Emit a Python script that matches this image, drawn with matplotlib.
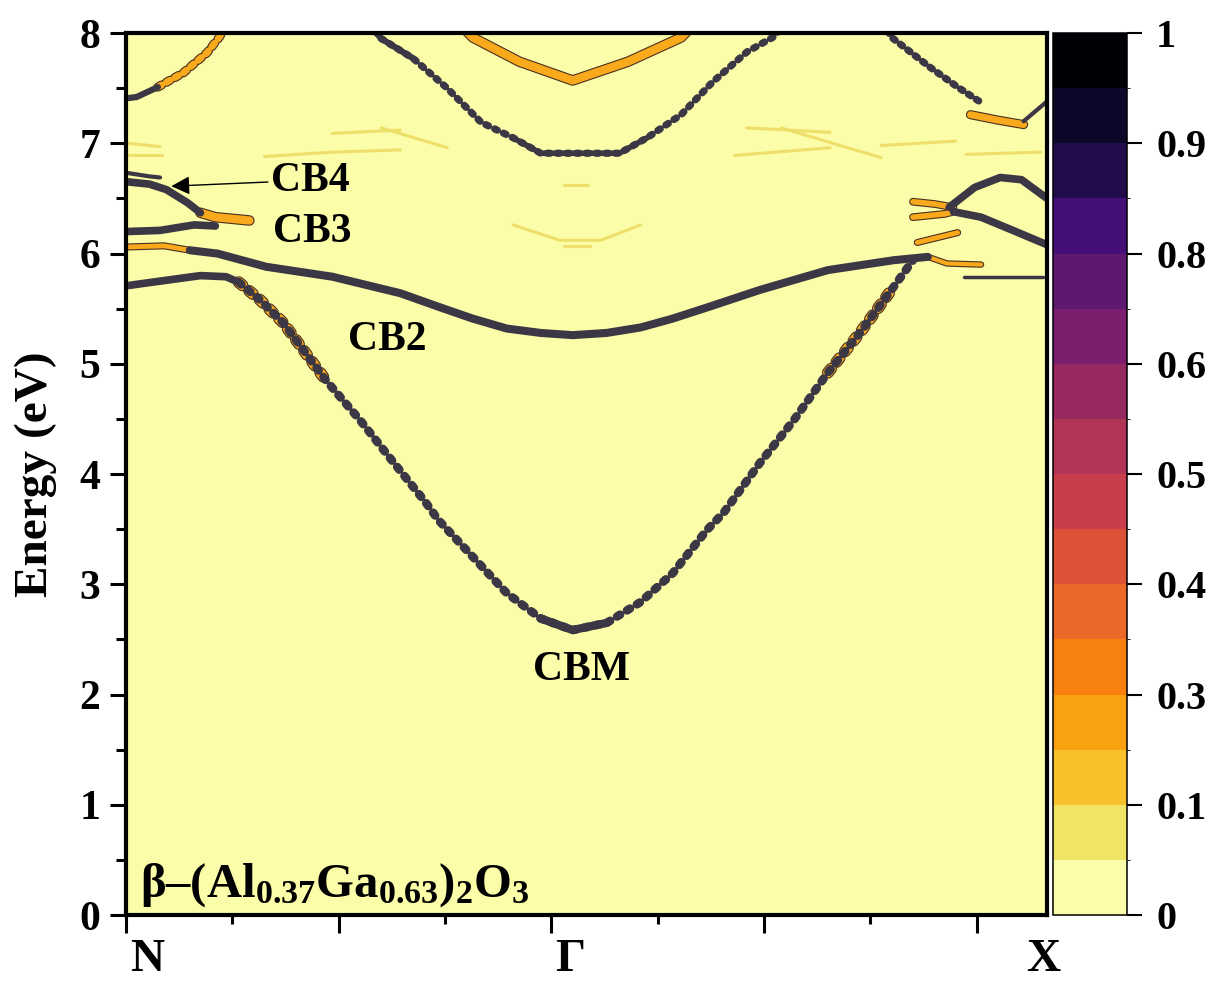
import numpy as np
import matplotlib
matplotlib.use('Agg')
import matplotlib.pyplot as plt
from matplotlib.colors import ListedColormap, BoundaryNorm
from matplotlib.cm import ScalarMappable
import matplotlib.patheffects as pe

plt.rcParams['font.family'] = 'Liberation Serif'
plt.rcParams['font.weight'] = 'bold'
plt.rcParams['axes.labelweight'] = 'bold'
plt.rcParams['mathtext.fontset'] = 'custom'
plt.rcParams['mathtext.rm'] = 'Liberation Serif:bold'
plt.rcParams['mathtext.it'] = 'Liberation Serif:bold'
plt.rcParams['mathtext.bf'] = 'Liberation Serif:bold'
plt.rcParams['mathtext.default'] = 'rm'

# ---- band data (k along N-G-X, energy in eV) ----
# CBM band (dotted, lowest conduction band)
cbm_k = [0.01, 0.16, 0.35, 0.47, 0.53, 0.63, 0.74, 0.94, 1.10, 1.26, 1.41, 1.47,
         1.63, 1.79, 1.95, 2.10, 2.26, 2.42, 2.57, 2.73, 2.81, 2.98, 3.14, 3.30,
         3.45, 3.61, 3.70]
cbm_e = [5.71, 5.75, 5.80, 5.79, 5.74, 5.58, 5.37, 4.85, 4.49, 4.10, 3.74, 3.58,
         3.25, 2.92, 2.69, 2.585, 2.65, 2.84, 3.10, 3.49, 3.65, 4.10, 4.49, 4.92,
         5.28, 5.70, 5.94]
# flat piece near X at 5.8 eV
cbx_k = [3.94, 4.10, 4.31]
cbx_e = [5.79, 5.79, 5.79]

# CB2
cb2_k = [0.30, 0.43, 0.66, 0.97, 1.29, 1.48, 1.63, 1.79, 1.95, 2.10, 2.26, 2.42,
         2.57, 2.73, 2.98, 3.30, 3.61, 3.77]
cb2_e = [6.03, 6.00, 5.88, 5.79, 5.64, 5.51, 5.41, 5.32, 5.28, 5.26, 5.28, 5.33,
         5.41, 5.51, 5.67, 5.85, 5.94, 5.97]
cb2_start_k = [0.01, 0.18, 0.30]
cb2_start_e = [6.06, 6.07, 6.03]
cb2_end_k = [3.77, 3.86, 4.02]
cb2_end_e = [5.97, 5.91, 5.90]

# CB3 and CB4 near N
cb3_k = [0.01, 0.16, 0.32, 0.42]
cb3_e = [6.20, 6.21, 6.26, 6.25]
cb4_k = [0.01, 0.11, 0.19, 0.29, 0.35]
cb4_e = [6.65, 6.63, 6.58, 6.46, 6.37]
cb4_tail_k = [0.35, 0.42, 0.58]
cb4_tail_e = [6.37, 6.33, 6.30]
cb5_k = [0.01, 0.11, 0.16]
cb5_e = [6.73, 6.70, 6.69]

# bands near X
xup_k = [3.87, 3.99, 4.11, 4.21, 4.33]
xup_e = [6.42, 6.60, 6.69, 6.67, 6.50]
xlo_k = [3.89, 4.02, 4.17, 4.33]
xlo_e = [6.38, 6.33, 6.21, 6.08]
xo1_k = [3.70, 3.80, 3.89]
xo1_e = [6.47, 6.45, 6.42]
xo2_k = [3.70, 3.85, 3.89]
xo2_e = [6.33, 6.36, 6.38]
xo3_k = [3.72, 3.91]
xo3_e = [6.10, 6.19]

# upper bands
ul_k = [0.01, 0.05, 0.15]
ul_e = [7.41, 7.42, 7.51]
ul_o_k = [0.15, 0.27, 0.38, 0.43, 0.46]
ul_o_e = [7.51, 7.64, 7.82, 7.94, 8.02]
top_k = [1.17, 1.20, 1.35, 1.51, 1.67, 1.82, 1.95, 2.14, 2.32, 2.45, 2.61, 2.76,
         2.92, 3.04, 3.07]
top_e = [8.02, 7.95, 7.77, 7.50, 7.19, 7.05, 6.91, 6.91, 6.91, 7.05, 7.26, 7.56,
         7.83, 7.96, 8.02]
topc_k = [1.60, 1.63, 1.85, 2.10, 2.36, 2.61, 2.64]
topc_e = [8.02, 7.96, 7.74, 7.57, 7.74, 7.96, 8.02]
tr_k = [3.58, 3.60, 3.78, 3.91, 4.02]
tr_e = [8.02, 7.96, 7.69, 7.51, 7.37]
tr_o_k = [3.97, 4.10, 4.22]
tr_o_e = [7.26, 7.21, 7.17]
tr2_k = [4.22, 4.33]
tr2_e = [7.20, 7.38]

# faint replica bands
ghosts = [
    ([0.01, 0.16], [7.00, 6.97]),
    ([0.01, 0.17], [6.89, 6.89]),
    ([0.65, 0.97, 1.29], [6.88, 6.92, 6.94]),
    ([0.97, 1.29], [7.09, 7.12]),
    ([1.20, 1.51], [7.14, 6.96]),
    ([2.86, 3.31], [6.89, 6.96]),
    ([2.92, 3.31], [7.14, 7.10]),
    ([3.08, 3.55], [7.14, 6.87]),
    ([1.82, 2.04, 2.23, 2.42], [6.26, 6.12, 6.12, 6.26]),
    ([2.06, 2.17], [6.62, 6.62]),
    ([2.06, 2.18], [6.07, 6.07]),
    ([3.55, 3.90], [6.98, 7.02]),
    ([3.95, 4.30], [6.90, 6.92]),
]

# colour scale
cbar_colors = ['#fcfda8', '#f0e464', '#f8c12c', '#f9a10f', '#f7800f', '#ec6828',
               '#dd5137', '#c83f4b', '#b03556', '#962a60', '#7c1d6e', '#5f1870',
               '#440f76', '#220c4b', '#0d0829', '#000004']
cbar_levels = [0, 0.0625, 0.125, 0.1875, 0.25, 0.3125, 0.375, 0.4375, 0.5,
               0.5625, 0.625, 0.6875, 0.75, 0.8125, 0.875, 0.9375, 1.0]
cbar_ticks = [0, 0.125, 0.25, 0.375, 0.5, 0.625, 0.75, 0.875, 1.0]
cbar_ticklabels = ['0', '0.1', '0.3', '0.4', '0.5', '0.6', '0.8', '0.9', '1']

kpt_pos = [0.10, 2.09, 4.31]
kpt_labels = ['N', 'Γ', 'X']

band_c = '#3b3745'
orange_c = '#f8a91c'
edge_c = '#4a3020'
ghost_c = '#eedf6a'

fig = plt.figure(figsize=(12.28, 9.93), dpi=100)
ax = fig.add_axes([0.1026, 0.0785, 0.75, 0.8882])
cax = fig.add_axes([0.8575, 0.0785, 0.0603, 0.8882])

ax.set_facecolor(cbar_colors[0])


def ghost(k, e):
    ax.plot(k, e, color=ghost_c, lw=2.2, solid_capstyle='round')


def orange(k, e, lw=6, ls='-'):
    ax.plot(k, e, color=orange_c, lw=lw, ls=ls, solid_capstyle='round',
            dash_capstyle='round', solid_joinstyle='round',
            path_effects=[pe.Stroke(linewidth=lw + 1.6, foreground=edge_c), pe.Normal()])


def dark(k, e, lw=5.5, ls='-'):
    ax.plot(k, e, color=band_c, lw=lw, ls=ls, solid_capstyle='round',
            dash_capstyle='round', solid_joinstyle='round')


for gk, ge in ghosts:
    ghost(gk, ge)

# orange (weaker spectral weight) parts
orange(cb2_start_k, cb2_start_e, lw=3.5)
orange(cb4_tail_k, cb4_tail_e, lw=6)
orange(xo1_k, xo1_e, lw=4)
orange(xo2_k, xo2_e, lw=4)
orange(xo3_k, xo3_e, lw=3.5)
orange(cb2_end_k, cb2_end_e, lw=3)
orange(ul_o_k, ul_o_e, lw=5, ls=(0, (0.6, 0.8)))
orange(topc_k, topc_e, lw=6)
orange(tr_o_k, tr_o_e, lw=5)
orange(cbm_k[4:8], cbm_e[4:8], lw=7, ls=(0, (0.5, 0.9)))
orange(cbm_k[23:26], cbm_e[23:26], lw=7, ls=(0, (0.5, 0.9)))

# main bands
dark(cbm_k[:5], cbm_e[:5], lw=5.5)
dark(cbm_k[4:], cbm_e[4:], lw=6.2, ls=(0, (0.4, 0.95)))
dark(cbm_k[14:17], cbm_e[14:17], lw=6.0)
dark(cbx_k, cbx_e, lw=2.5)
dark(cb2_k, cb2_e, lw=5.8)
dark(cb3_k, cb3_e, lw=5.5)
dark(cb4_k, cb4_e, lw=5.5)
dark(cb5_k, cb5_e, lw=3)
dark(xup_k, xup_e, lw=5.5)
dark(xlo_k, xlo_e, lw=5.5)
dark(ul_k, ul_e, lw=4.5)
dark(top_k, top_e, lw=5.2, ls=(0, (0.4, 0.95)))
dark(top_k[:3], top_e[:3], lw=4.5)
dark(top_k[5:10], top_e[5:10], lw=4)
dark(tr_k, tr_e, lw=5.2, ls=(0, (0.4, 0.9)))
dark(tr2_k, tr2_e, lw=3)

# labels
ax.text(0.866, 6.66, 'CB4', fontsize=30, ha='center', va='center')
ax.text(0.875, 6.20, 'CB3', fontsize=30, ha='center', va='center')
ax.text(1.23, 5.22, 'CB2', fontsize=30, ha='center', va='center')
ax.text(2.14, 2.22, 'CBM', fontsize=30, ha='center', va='center')
ax.annotate('', xy=(0.20, 6.61), xytext=(0.68, 6.65),
            arrowprops=dict(arrowstyle='-|>', lw=1.0, color='k', mutation_scale=28))
ax.text(0.066, 0.27, 'β–(Al$_{0.37}$Ga$_{0.63}$)$_2$O$_3$', fontsize=35,
        ha='left', va='center')

ax.set_xlim(0, 4.33)
ax.set_ylim(0, 8)
ax.set_xticks([0, 1, 2, 3, 4])
ax.set_xticks([0.5, 1.5, 2.5, 3.5], minor=True)
ax.set_xticklabels([])
ax.set_yticks(range(9))
ax.set_yticks(np.arange(0.5, 8, 1.0), minor=True)
ax.tick_params(axis='x', which='major', length=13, width=2.2, direction='out')
ax.tick_params(axis='x', which='minor', length=6.5, width=2.2, direction='out')
ax.tick_params(axis='y', which='major', length=11.5, width=2.2, direction='out',
               labelsize=30, pad=7)
ax.tick_params(axis='y', which='minor', length=7, width=2.2, direction='out')
for s in ax.spines.values():
    s.set_linewidth(3)
for xp, lab in zip(kpt_pos, kpt_labels):
    ax.text(xp, -0.41, lab, fontsize=34, ha='center', va='center')
ax.set_ylabel('Energy (eV)', fontsize=34, labelpad=16)

# colour bar
cmap = ListedColormap(cbar_colors)
norm = BoundaryNorm(cbar_levels, cmap.N)
cb = fig.colorbar(ScalarMappable(norm=norm, cmap=cmap), cax=cax, ticks=cbar_ticks)
cb.set_ticklabels(cbar_ticklabels)
cb.outline.set_linewidth(1.1)
cax.tick_params(length=11, width=1.5, labelsize=29, pad=10)

fig.savefig('out.png', dpi=100)
